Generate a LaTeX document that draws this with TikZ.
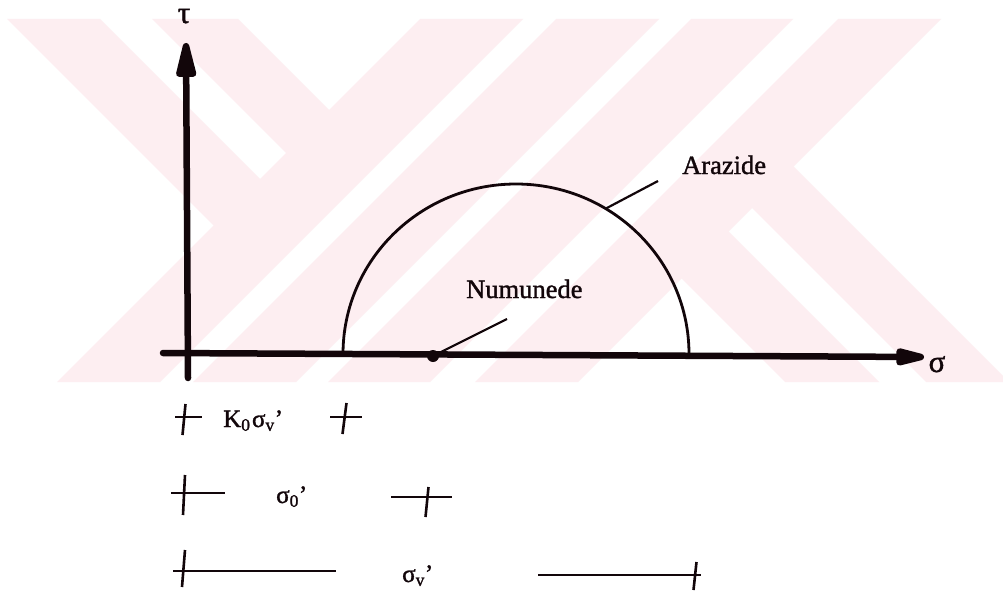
\documentclass[tikz,border=0pt]{standalone}
\usepackage{fontspec}
\setmainfont{Liberation Serif}
\newfontfamily\scanfont{Liberation Serif}[FakeBold=1.3]
\usetikzlibrary{arrows.meta}
\definecolor{wmpink}{RGB}{253,238,241}
\definecolor{ink}{RGB}{18,6,10}
\tikzset{
  axisline/.style={draw=ink, line width=6.5pt, line cap=round},
  arcline/.style={draw=ink, line width=2.8pt},
  leadline/.style={draw=ink, line width=2.2pt},
  dimline/.style={draw=ink, line width=2pt},
  tickline/.style={draw=ink, line width=2.6pt},
  axlbl/.style={text=ink, inner sep=0pt, anchor=base, font=\scanfont\fontsize{31}{31}\selectfont},
  txtlbl/.style={text=ink, inner sep=0pt, anchor=base west, font=\scanfont\fontsize{26.5}{26.5}\selectfont},
  dimlbl/.style={text=ink, inner sep=0pt, anchor=base west, font=\scanfont\fontsize{25}{25}\selectfont},
}
\begin{document}
\begin{tikzpicture}[x=1pt,y=-1pt]
\useasboundingbox (0,0) rectangle (1003,594);
\fill[white] (0,0) rectangle (1003,594);
% watermark
\begin{scope}
  \clip (0,19) rectangle (1003,382);
  \fill[wmpink] (420,19) -- (523,19) -- (160,382) -- (57,382) -- cycle;
  \fill[wmpink] (556,19) -- (659,19) -- (296,382) -- (193,382) -- cycle;
  \fill[wmpink] (691,19) -- (793,19) -- (430,382) -- (328,382) -- cycle;
  \fill[wmpink] (838,19) -- (941,19) -- (578,382) -- (475,382) -- cycle;
  \fill[wmpink] (7,19) -- (100,19) -- (275.5,194.5) -- (229,241) -- cycle;
  \fill[wmpink] (152,19) -- (238,19) -- (344.5,125.5) -- (301.5,168.5) -- cycle;
  \fill[wmpink] (666.5,263.5) -- (713.5,216.5) -- (879,382) -- (785,382) -- cycle;
  \fill[wmpink] (737,193) -- (778.5,151.5) -- (1009,382) -- (926,382) -- cycle;
\end{scope}
% axes
\coordinate (vb) at (188,378);
\coordinate (vt) at (186,43);
\coordinate (hl) at (163,353);
\coordinate (ht) at (924,357);
\draw[axisline, -{Triangle[length=46pt,width=20pt,round]}] (vb) -- (vt);
\draw[axisline, -{Triangle[length=40pt,width=17pt,round]}] (hl) -- (ht);
\node[axlbl] (tau) at (184,23) {τ};
\node[axlbl] (sig) at (937,372) {σ};
% Mohr half circle
\coordinate (L) at (343,354);
\draw[arcline] (L) arc[start angle=180, end angle=0, x radius=173pt, y radius=170pt];
% labels and leaders
\node[txtlbl] (arz) at (682,174) {Arazide};
\coordinate (a1) at (605,209);
\coordinate (a2) at (658,181);
\draw[leadline] (a1) -- (a2);
\node[txtlbl] (num) at (466,298) {Numunede};
\node[circle, fill=ink, inner sep=0pt, minimum size=12pt] (dot) at (433,356) {};
\coordinate (n2) at (507,319);
\draw[leadline] (dot.center) -- (n2);
% dimension rows
\coordinate (mA) at (184,417);
\coordinate (mB) at (345,417);
\coordinate (mC) at (184,493);
\coordinate (mD) at (427,497);
\coordinate (mE) at (184,571);
\coordinate (mF) at (695,575);
\draw[dimline] (mA) ++(-9,0) -- ++(27,0);
\draw[tickline] (mA) ++(1.5,-13) -- ++(-3,31);
\draw[dimline] (mB) ++(-15,0) -- ++(32,0);
\draw[tickline] (mB) ++(1.5,-14) -- ++(-4,31);
\draw[dimline] (mC) ++(-13,0) -- ++(54,0);
\draw[tickline] (mC) ++(1,-18) -- ++(-2,40);
\draw[dimline] (mD) ++(-36,0) -- ++(61,0);
\draw[tickline] (mD) ++(1.5,-10) -- ++(-3,30);
\draw[dimline] (mE) ++(-11,0) -- ++(163,0);
\draw[tickline] (mE) ++(1,-21) -- ++(-3,37);
\draw[dimline] (mF) ++(-157,0) -- ++(163,0);
\draw[tickline] (mF) ++(1.5,-13) -- ++(-3,28);
\node[dimlbl] (k0) at (223,427) {K\textsubscript{0}\kern1.5ptσ\textsubscript{v}’};
\node[dimlbl] (s0) at (276,503) {σ\textsubscript{0}’};
\node[dimlbl] (sv) at (402,582) {σ\textsubscript{v}’};
\end{tikzpicture}
\end{document}
